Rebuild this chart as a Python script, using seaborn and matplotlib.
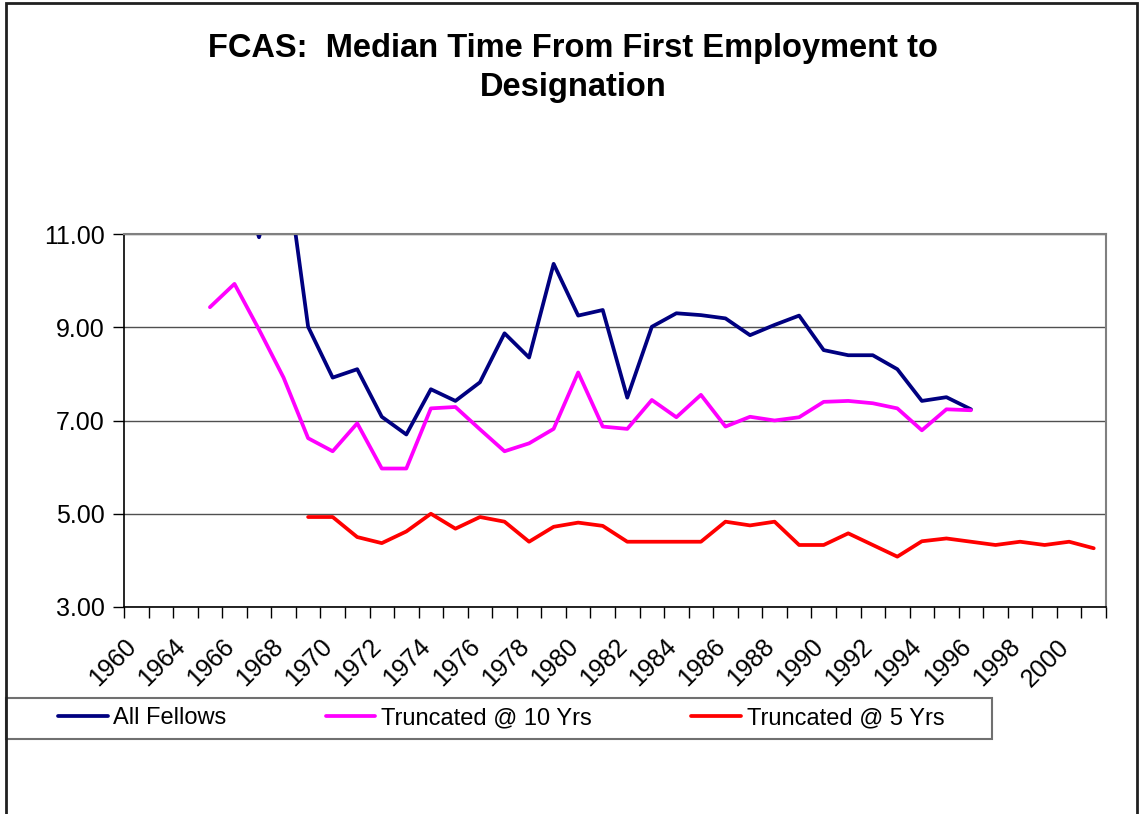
import numpy as np
import pandas as pd
import seaborn as sns
import matplotlib.pyplot as plt
from matplotlib.patches import Rectangle
from matplotlib.lines import Line2D
import matplotlib.transforms as mtransforms

# category axis: 40 years, label on every other one
years = [1960, 1963] + list(range(1964, 2002))

nan = np.nan
all_fellows = [nan, nan, nan, nan, 12.6, 10.93, 12.9, 9.01, 7.92, 8.10,
               7.08, 6.70, 7.67, 7.42, 7.82, 8.87, 8.35, 10.36, 9.25, 9.37,
               7.49, 9.01, 9.30, 9.26, 9.19, 8.83, 9.05, 9.25, 8.51, 8.40,
               8.40, 8.10, 7.42, 7.50, 7.24, nan, nan, nan, nan, nan]
trunc_10 = [nan, nan, nan, 9.43, 9.93, 8.95, 7.92, 6.62, 6.34, 6.94,
            5.97, 5.97, 7.26, 7.29, 6.81, 6.34, 6.51, 6.82, 8.03, 6.87,
            6.82, 7.44, 7.07, 7.55, 6.87, 7.08, 7.00, 7.07, 7.40, 7.42,
            7.37, 7.26, 6.79, 7.24, 7.22, nan, nan, nan, nan, nan]
trunc_5 = [nan, nan, nan, nan, nan, nan, nan, 4.93, 4.93, 4.50,
           4.37, 4.62, 5.00, 4.68, 4.93, 4.83, 4.40, 4.72, 4.81, 4.74,
           4.40, 4.40, 4.40, 4.40, 4.83, 4.75, 4.83, 4.33, 4.33, 4.58,
           4.33, 4.08, 4.41, 4.47, 4.40, 4.33, 4.40, 4.33, 4.40, 4.26]

series_names = ["All Fellows", "Truncated @ 10 Yrs", "Truncated @ 5 Yrs"]
colors = {"All Fellows": "#000080", "Truncated @ 10 Yrs": "#FF00FF",
          "Truncated @ 5 Yrs": "#FF0000"}

frames = []
for name, vals in zip(series_names, [all_fellows, trunc_10, trunc_5]):
    frames.append(pd.DataFrame({"pos": np.arange(len(years)) + 0.5,
                                "value": vals, "series": name}))
df = pd.concat(frames).dropna()

sns.set_style("white")
plt.rcParams["font.family"] = ["Liberation Sans", "DejaVu Sans"]
plt.rcParams["text.color"] = "black"
plt.rcParams["xtick.color"] = "black"
plt.rcParams["ytick.color"] = "black"

fig = plt.figure(figsize=(11.39, 8.14), dpi=100)
ax = fig.add_axes([124 / 1139, 1 - 607 / 814, 982 / 1139, 373 / 814])

sns.lineplot(data=df, x="pos", y="value", hue="series", palette=colors,
             hue_order=series_names, linewidth=2.7, sort=True, legend=False,
             ax=ax)

ax.set_xlim(0, len(years))
ax.set_ylim(3, 11)
ax.set_xlabel("")
ax.set_ylabel("")

# y axis
ax.set_yticks([3, 5, 7, 9, 11])
ax.set_yticklabels([f"{v:.2f}" for v in [3, 5, 7, 9, 11]], fontsize=18)
ax.yaxis.grid(True, color="#505050", linewidth=1)
ax.tick_params(axis="y", direction="out", length=8, width=1, color="black",
               pad=6, left=True)

# x axis: ticks between categories, labels on every other category
ax.set_xticks(np.arange(0, len(years) + 1))
ax.set_xticklabels([])
ax.tick_params(axis="x", which="major", direction="out", length=8, width=1,
               color="black", bottom=True)
lab_pos = np.arange(0, len(years), 2) + 0.5
ax.set_xticks(lab_pos, minor=True)
ax.set_xticklabels([str(years[i]) for i in range(0, len(years), 2)],
                   minor=True, fontsize=18, rotation=45, ha="right",
                   va="center", rotation_mode="anchor")
ax.tick_params(axis="x", which="minor", length=0, pad=26)
offset = mtransforms.ScaledTranslation(-4 / 100, 0, fig.dpi_scale_trans)
for lab in ax.get_xticklabels(minor=True):
    lab.set_transform(lab.get_transform() + offset)

for side in ["left", "bottom"]:
    ax.spines[side].set_color("black")
    ax.spines[side].set_linewidth(1.2)
for side in ["top", "right"]:
    ax.spines[side].set_color("#808080")
    ax.spines[side].set_linewidth(1.5)

# title
fig.text(573 / 1139, 1 - 68 / 814,
         "FCAS:  Median Time From First Employment to\nDesignation",
         ha="center", va="center", fontsize=23.5, fontweight="bold",
         linespacing=1.35)

# legend along the bottom
handles = [Line2D([0], [0], color=colors[n], linewidth=2.7) for n in series_names]
fig.legend(handles, series_names, loc="center left",
           bbox_to_anchor=(58 / 1139, 1 - 718.5 / 814), frameon=False,
           ncol=3, fontsize=17, handlelength=2.1, handletextpad=0.25,
           columnspacing=4.2, borderpad=0, borderaxespad=0)
fig.patches.append(Rectangle((6 / 1139, 1 - 739 / 814), 986 / 1139, 41 / 814,
                             transform=fig.transFigure, fill=False,
                             edgecolor="#707070", linewidth=1.5))

# outer chart border
fig.patches.append(Rectangle((6 / 1139, -0.02), 1131 / 1139, 1.02 - 3 / 814,
                             transform=fig.transFigure, fill=False,
                             edgecolor="#202020", linewidth=2))

fig.savefig("out.png", dpi=100)
